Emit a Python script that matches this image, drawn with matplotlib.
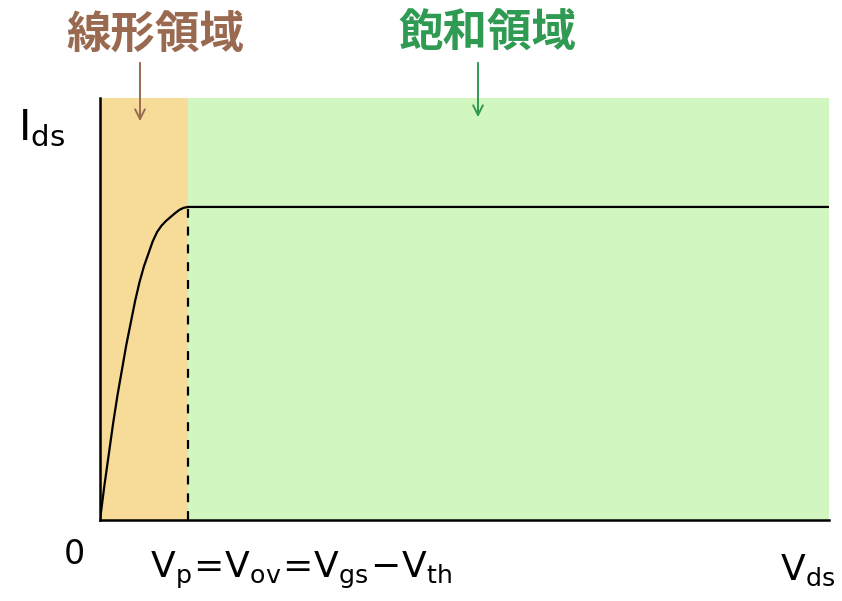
import matplotlib.pyplot as plt

plt.rcParams['font.family'] = ['Noto Sans CJK JP', 'DejaVu Sans']

# Ids-Vds curve, x in units of Vp, y in units of saturation current
vds_lin = [0, 0.05, 0.10, 0.15, 0.20, 0.25, 0.30, 0.35, 0.40, 0.45, 0.50,
           0.55, 0.60, 0.65, 0.70, 0.75, 0.80, 0.85, 0.90, 0.95, 1.0]
ids_lin = [0, 0.11, 0.21, 0.31, 0.40, 0.48, 0.56, 0.63, 0.70, 0.76, 0.81,
           0.85, 0.89, 0.92, 0.94, 0.955, 0.967, 0.979, 0.99, 0.997, 1.0]
vp = 1.0
vds_max = 8.30
ids_top = 1.348

W, H = 842, 601
fig = plt.figure(figsize=(W / 100, H / 100), dpi=100)
ax = fig.add_axes([100 / W, 1 - 520 / H, 729 / W, 422 / H])

ax.axvspan(0, vp, color='#f6dc98', lw=0)
ax.axvspan(vp, vds_max, color='#d2f6c0', lw=0)

ax.plot(vds_lin + [vds_max], ids_lin + [1.0], color='black', lw=1.6)
ax.plot([vp, vp], [0, 1.0], color='black', lw=1.6, ls=(0, (4, 4)))

ax.set_xlim(0, vds_max)
ax.set_ylim(0, ids_top)
ax.set_xticks([])
ax.set_yticks([])
for s in ['top', 'right']:
    ax.spines[s].set_visible(False)
for s in ['left', 'bottom']:
    ax.spines[s].set_linewidth(1.8)
    ax.spines[s].set_color('black')


def fx(px):
    return px / W


def fy(py):
    return 1 - py / H


brown = '#9a6a50'
green = '#2e9a52'
fig.text(fx(155), fy(36), '線形領域', color=brown, fontsize=32,
         fontweight='bold', ha='center', va='center')
fig.text(fx(487), fy(34), '飽和領域', color=green, fontsize=32,
         fontweight='bold', ha='center', va='center')
arrow = '->,head_length=0.7,head_width=0.35'
fig.add_artist(plt.Annotation('', xy=(fx(140), fy(124)), xytext=(fx(140), fy(60)),
                              xycoords='figure fraction',
                              arrowprops=dict(arrowstyle=arrow, color=brown, lw=1.4)))
fig.add_artist(plt.Annotation('', xy=(fx(478), fy(120)), xytext=(fx(478), fy(60)),
                              xycoords='figure fraction',
                              arrowprops=dict(arrowstyle=arrow, color=green, lw=1.4)))

fig.text(fx(18), fy(128), r'$\mathregular{I_{ds}}$', fontsize=30, ha='left', va='center',
         family='DejaVu Sans')
fig.text(fx(74), fy(555), '0', fontsize=24, ha='center', va='center', family='DejaVu Sans')
fig.text(fx(150), fy(570), r'$\mathregular{V_p\!=\!V_{ov}\!=\!V_{gs}\!-\!V_{th}}$', fontsize=26,
         ha='left', va='center', family='DejaVu Sans')
fig.text(fx(835), fy(570), r'$\mathregular{V_{ds}}$', fontsize=26, ha='right', va='center',
         family='DejaVu Sans')

fig.savefig('out.png', dpi=100)
